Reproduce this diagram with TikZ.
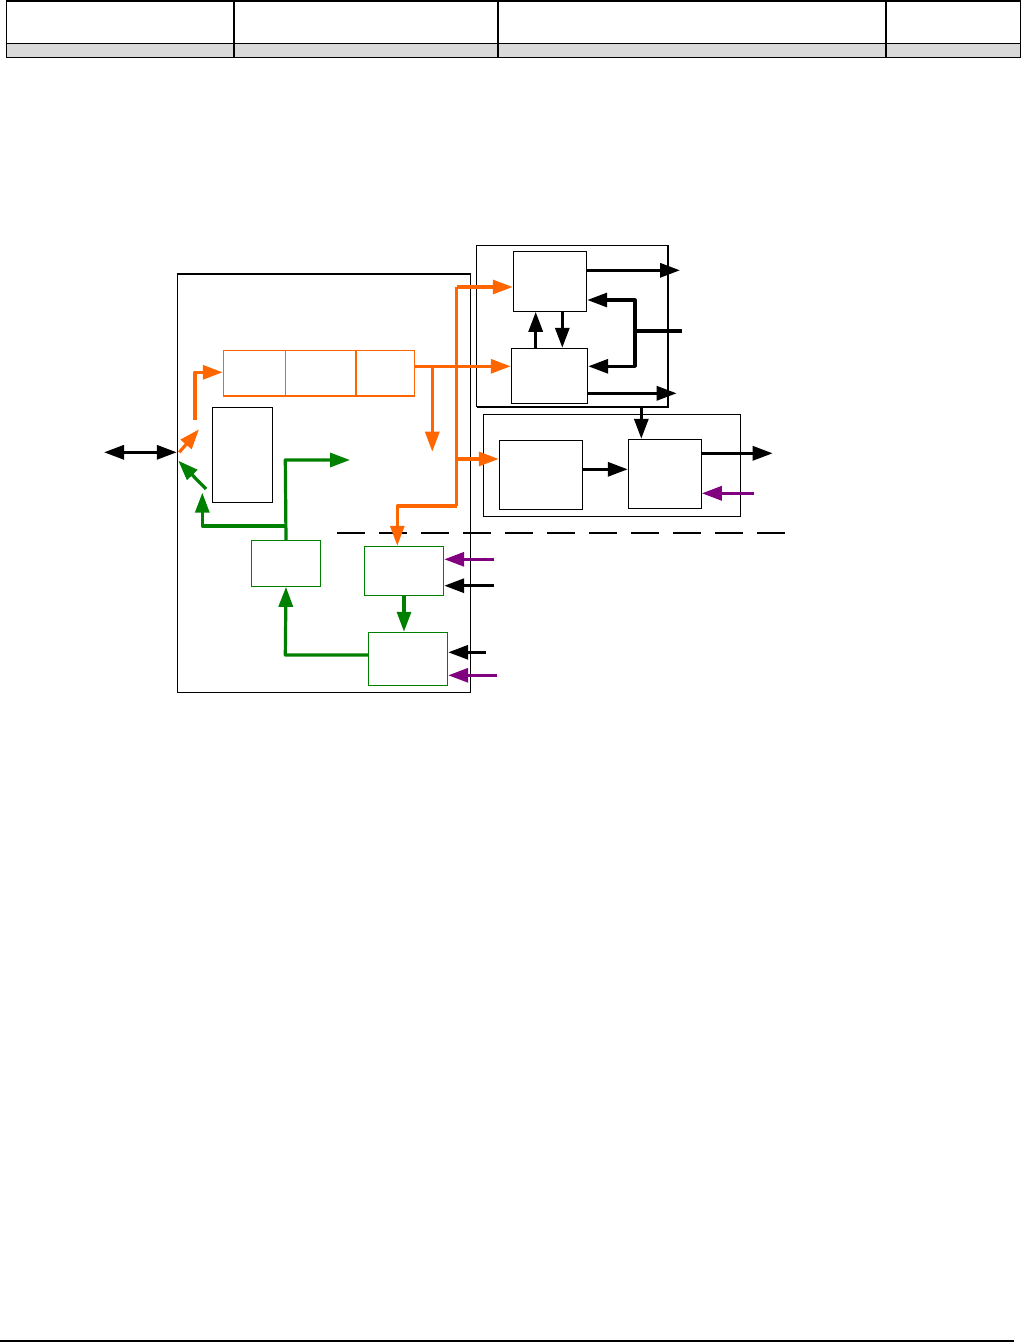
\documentclass[tikz,border=0pt]{standalone}
\usetikzlibrary{arrows.meta,fit,calc}
\definecolor{org}{HTML}{FF6600}
\definecolor{grn}{HTML}{008000}
\definecolor{pur}{HTML}{800080}
\definecolor{hdrgray}{HTML}{D9D9D9}
\begin{document}
\begin{tikzpicture}[x=0.75pt,y=-0.75pt,
  box/.style={draw, line width=0.8pt, inner sep=0pt},
  obox/.style={draw=org, line width=0.8pt, inner sep=0pt},
  gbox/.style={draw=grn, line width=0.8pt, inner sep=0pt},
  tip/.style={-{Triangle[length=15pt,width=10.5pt]}},
  arr/.style={tip, line width=2.4pt, line join=round},
  barr/.style={arr, black},
  oarr/.style={arr, org},
  garr/.style={arr, grn},
  parr/.style={arr, pur},
  dbl/.style={line width=2.4pt, {Triangle[length=15pt,width=10.5pt]}-{Triangle[length=15pt,width=10.5pt]}},
  oline/.style={line width=2.4pt, org, line join=round},
  gline/.style={line width=2.4pt, grn, line join=round},
  bline/.style={line width=2.4pt, black, line join=round}
]
\useasboundingbox (0,0) rectangle (1021,1342);

% ---------- header table ----------
\fill[hdrgray] (6.3,43.3) rectangle (1020.3,57.3);
\draw[line width=0.8pt] (6.3,1) rectangle (1020.3,57.3);
\draw[line width=0.8pt] (6.3,43.3) -- (1020.3,43.3);
\foreach \xx in {234,498,886} \draw[line width=0.8pt] (\xx,1) -- (\xx,57.3);
% ---------- footer line ----------
\draw[line width=0.9pt] (0,1341) -- (1014,1341);

% ---------- boxes ----------
\node[box, fit={(177.3,274)(470.5,692.3)}] (L) {};
\node[obox, fit={(223.3,350.3)(285.3,396)}] (R1) {};
\node[obox, fit={(285.3,350.3)(356,396)}] (R2) {};
\node[obox, fit={(356,350.3)(414.3,396)}] (R3) {};
\node[box, fit={(212.3,407.3)(272.3,502.3)}] (S) {};
\node[gbox, fit={(251.3,540.3)(320.7,586.3)}] (G1) {};
\node[gbox, fit={(364.3,546.3)(443.7,595.3)}] (G2) {};
\node[gbox, fit={(368.3,632.3)(447.7,685.3)}] (G3) {};

\node[box, fit={(476.7,245.7)(668,406.7)}] (U) {};
\draw[line width=1.8pt] (476.7,406.7) -- (668,406.7) -- (668,245.7);
\node[box, fit={(513.3,251.3)(586.7,311.3)}] (A) {};
\node[box, fit={(511.3,348.3)(587.7,403.3)}] (B) {};

\node[box, fit={(483.3,414.3)(740.7,516.3)}] (W) {};
\node[box, fit={(499.3,440.3)(582.7,509.3)}] (C) {};
\node[box, fit={(628.3,439.3)(701.3,508.3)}] (D) {};

% ---------- free-end coordinates ----------
\coordinate (ext) at (104,452.3);
\coordinate (oa0) at (179.3,452.3);
\coordinate (oa1) at (199,429.3);
\coordinate (ob0) at (195,420);
\coordinate (ga0) at (206,489);
\coordinate (ga1) at (178.3,460.7);
\coordinate (gt) at (350,460);
\coordinate (od) at (432.3,451.7);
\coordinate (bus) at (456.7,287);
\coordinate (aout) at (680,270.3);
\coordinate (bout) at (676.7,393.3);
\coordinate (fb) at (681.7,331);
\coordinate (dout) at (772.7,453.3);
\coordinate (dpin) at (754,493.3);
\coordinate (g2p) at (494,559.3);
\coordinate (g2b) at (494,585.7);
\coordinate (g3b) at (485.7,652.3);
\coordinate (g3p) at (497.3,675.3);

% ---------- dashed line ----------
\draw[line width=2.2pt, dash pattern=on 20.5pt off 11pt] (337.3,533) -- (786.7,533);

% ---------- left side ----------
\draw[dbl] (ext) -- (L.west |- ext);
\draw[oarr] (oa0) -- (oa1);
\draw[oarr] (ob0) -- (195,372.3) -- ({R1.west |- {(0,372.3)}});
\draw[garr] (ga0) -- (ga1);
\draw[garr] (G1.north) -- (285.3,460) -- (gt);
\draw[garr] (285.3,526) -- (202.3,526) -- (202.3,492.7);

% orange paths
\draw[oarr] (R3.east |- {(0,366.3)}) -- (B.west |- {(0,366.3)});
\draw[oarr] (432.3,366.3) -- (od);
\draw[oline] (456.7,506) -- (bus);
\draw[oarr] (bus) -- (A.west |- bus);
\draw[oarr] (456.7,459) -- (C.west |- {(0,459)});
\draw[oarr] (456.7,506) -- (397.3,506) -- (G2.north -| {(397.3,0)});

% green lower
\draw[garr] (G2.south -| {(404,0)}) -- (G3.north -| {(404,0)});
\draw[garr] (G3.west |- {(0,655)}) -- (285.3,655) -- (G1.south);

% inputs to G2 / G3
\draw[parr] (g2p) -- (G2.east |- g2p);
\draw[barr] (g2b) -- (G2.east |- g2b);
\draw[barr] (g3b) -- (G3.east |- g3b);
\draw[parr] (g3p) -- (G3.east |- g3p);

% ---------- upper right ----------
\draw[barr] (A.east |- aout) -- (aout);
\draw[barr] (B.east |- bout) -- (bout);
\draw[barr] (B.north -| {(535.7,0)}) -- (A.south -| {(535.7,0)});
\draw[barr] (A.south -| {(562.3,0)}) -- (B.north -| {(562.3,0)});
\draw[bline] (fb) -- (635,331);
\draw[barr] (635,331) -- (635,300) -- (A.east |- {(0,300)});
\draw[barr] (635,331) -- (635,366.3) -- (B.east |- {(0,366.3)});
\draw[barr] (U.south -| {(641.3,0)}) -- (D.north -| {(641.3,0)});

% ---------- lower right ----------
\draw[barr] (C.east |- {(0,469.3)}) -- (D.west |- {(0,469.3)});
\draw[barr] (D.east |- dout) -- (dout);
\draw[parr] (dpin) -- (D.east |- dpin);
\end{tikzpicture}
\end{document}
